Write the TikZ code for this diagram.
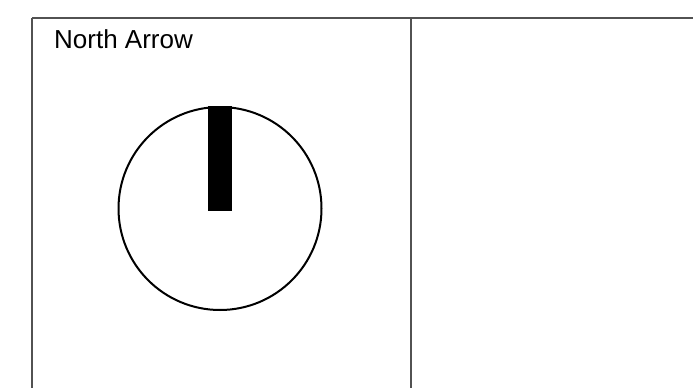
\documentclass[tikz,border=0pt]{standalone}
\usepackage{fontspec}
\setmainfont{Liberation Sans}
\begin{document}
\begin{tikzpicture}[x=1pt,y=-1pt,
  rule/.style={draw=black!68,line width=2pt},
  ring/.style={draw=black,line width=2pt},
  bar/.style={fill=black,draw=none}]
\useasboundingbox (0,0) rectangle (693,388);
\fill[white] (0,0) rectangle (693,388);
\draw[rule] (32,17.5) -- (693,17.5);
\draw[rule] (32,17.5) -- (32,388);
\draw[rule] (411,17.5) -- (411,388);
\node[anchor=base west,inner sep=0pt,font=\fontsize{26}{30}\selectfont] (title) at (54,48) {North Arrow};
\node[ring,circle,minimum size=203pt,inner sep=0pt] (dial) at (220,208.5) {};
\path[bar] (207.5,106) rectangle (232,211);
\end{tikzpicture}
\end{document}
